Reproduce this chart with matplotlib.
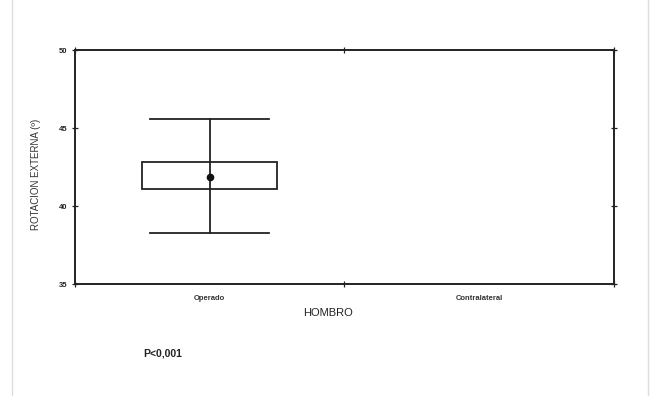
import matplotlib
matplotlib.use("Agg")
import matplotlib.pyplot as plt
from matplotlib.patches import Rectangle

plt.rcParams['font.family'] = ['Liberation Sans', 'DejaVu Sans']

# values
groups = ["Operado", "Contralateral"]
means = [41.85, None]
box_low = [41.1, None]
box_high = [42.85, None]
whisk_low = [38.3, None]
whisk_high = [45.6, None]
positions = [1, 3]

fig = plt.figure(figsize=(6.56, 3.96), dpi=100)
ax = fig.add_axes([0.1143, 0.2828, 0.8217, 0.5909])

for pos, m, lo, hi, wl, wh in zip(positions, means, box_low, box_high, whisk_low, whisk_high):
    if m is None:
        continue
    ax.add_patch(Rectangle((pos - 0.5, lo), 1.0, hi - lo, fill=False,
                           edgecolor="#222222", linewidth=1.3))
    ax.plot([pos, pos], [wl, wh], color="#222222", linewidth=1.3)
    ax.plot([pos - 0.44, pos + 0.44], [wh, wh], color="#222222", linewidth=1.3)
    ax.plot([pos - 0.44, pos + 0.44], [wl, wl], color="#222222", linewidth=1.3)
    ax.plot(pos, m, "o", color="#111111", markersize=4.5)

ax.set_xlim(0, 4)
ax.set_ylim(35, 50)
ax.set_yticks([35, 40, 45, 50])
ax.set_xticks([0, 2, 4])
ax.set_xticklabels([])
for pos, g in zip(positions, groups):
    ax.text(pos, -0.045, g, transform=ax.get_xaxis_transform(), ha="center",
            va="top", fontsize=5.5, fontweight="bold", color="#333333")

ax.tick_params(axis="both", direction="inout", length=4, width=0.9,
               labelsize=5.5, colors="#222222", top=True, right=True)
for lbl in ax.get_yticklabels():
    lbl.set_fontweight("bold")
for s in ax.spines.values():
    s.set_linewidth(1.4)
    s.set_color("#222222")

ax.set_ylabel("ROTACION EXTERNA (º)", fontsize=7, color="#333333")
ax.yaxis.set_label_coords(-0.063, 0.47)
fig.text(0.5, 1 - 313 / 396, "HOMBRO", ha="center", va="center",
         fontsize=8, color="#222222")
fig.text(0.218, 1 - 353 / 396, "P<0,001", ha="left", va="center",
         fontsize=7.5, fontweight="bold", color="#222222")

# faint page edges of the scan
fig.add_artist(plt.Line2D([0.018, 0.018], [0, 1], color="#dddddd", linewidth=1))
fig.add_artist(plt.Line2D([0.988, 0.988], [0, 1], color="#dddddd", linewidth=1))

fig.savefig("out.png", dpi=100)
